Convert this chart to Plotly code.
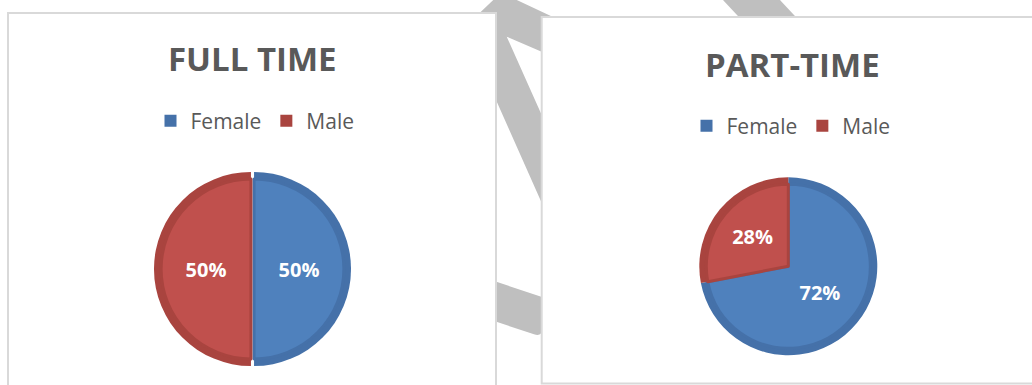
import plotly.graph_objects as go

W, H = 1032, 385

# Data
labels = ["Female", "Male"]
full_time = [50, 50]
part_time = [72, 28]
titles = ["FULL TIME", "PART-TIME"]

# Styling
light = ["#4F81BD", "#C0504D"]
dark = ["#4571A9", "#A9443F"]
grey = "#BFBFBF"
border = "#D9D9D9"
text_grey = "#595959"
FONT = "Open Sans"


def px(x, y):
    """Pixel position -> paper coordinates."""
    return x / W, 1 - y / H


def path(points, close=True):
    parts = []
    for i, (x, y) in enumerate(points):
        u, v = px(x, y)
        parts.append(("M" if i == 0 else "L") + f"{u:.5f},{v:.5f}")
    return " ".join(parts) + (" Z" if close else "")


def domain(cx, cy, r):
    return dict(x=[(cx - r) / W, (cx + r) / W], y=[1 - (cy + r) / H, 1 - (cy - r) / H])


shapes = []

# Grey connector strokes behind the two chart panels
chevron = [(467, 25), (501, -7.4), (620, 48.4), (620, 85.4), (506.7, 36.7),
           (560, 156.1), (545, 210.3), (470, 41.5)]
shapes.append(dict(type="path", xref="paper", yref="paper", path=path(chevron),
                   fillcolor=grey, line=dict(width=0), layer="below"))

u0, v0 = px(420, 256.6)
u1, v1 = px(542, 296.9)
u2, v2 = px(542, 329)
uq, vq = px(542, 337)
u3, v3 = px(534, 334.3)
u4, v4 = px(420, 296.6)
shapes.append(dict(type="path", xref="paper", yref="paper",
                   path=f"M{u0:.5f},{v0:.5f} L{u1:.5f},{v1:.5f} L{u2:.5f},{v2:.5f} "
                        f"Q{uq:.5f},{vq:.5f} {u3:.5f},{v3:.5f} L{u4:.5f},{v4:.5f} Z",
                   fillcolor=grey, line=dict(width=0), layer="below"))

band_top = [(718.3, -5), (775.3, -5), (808, 30), (751, 30)]
shapes.append(dict(type="path", xref="paper", yref="paper", path=path(band_top),
                   fillcolor=grey, line=dict(width=0), layer="below"))

# Chart panels
for (x0, y0, x1, y1) in [(8, 13, 496, 430), (541.7, 17, 1060, 383.5)]:
    a, b = px(x0, y0)
    c, d = px(x1, y1)
    shapes.append(dict(type="rect", xref="paper", yref="paper", x0=a, y0=d, x1=c, y1=b,
                       fillcolor="white", line=dict(color=border, width=2), layer="below"))

fig = go.Figure()

charts = [
    dict(values=full_time, cx=252.5, cy=269, r=97, pull=0.016, legend="legend", group="full"),
    dict(values=part_time, cx=788.3, cy=266.3, r=89, pull=0.0, legend="legend2", group="part"),
]

for ch in charts:
    outer = ch["r"] * (1 + ch["pull"])
    # darker rim
    fig.add_trace(go.Pie(
        labels=labels, values=ch["values"], sort=False, direction="clockwise",
        rotation=0, pull=[ch["pull"]] * 2,
        marker=dict(colors=dark, line=dict(width=0)),
        textinfo="none", hoverinfo="label+percent",
        domain=domain(ch["cx"], ch["cy"], outer),
        legend=ch["legend"], legendgroup=ch["group"], showlegend=True,
    ))
    # lighter face
    inner = (ch["r"] - 7) * (1 + ch["pull"])
    fig.add_trace(go.Pie(
        labels=labels, values=ch["values"], sort=False, direction="clockwise",
        rotation=0, pull=[ch["pull"] * ch["r"] / (ch["r"] - 7)] * 2,
        marker=dict(colors=light, line=dict(color=dark, width=3)),
        textinfo="percent", textposition="inside", insidetextorientation="horizontal",
        textfont=dict(family=FONT, size=20, color="white", weight="bold"),
        hoverinfo="label+percent",
        domain=domain(ch["cx"], ch["cy"], inner),
        legend=ch["legend"], legendgroup=ch["group"], showlegend=False,
    ))

annotations = []
for title, (tx, ty) in zip(titles, [(252, 58), (792, 64)]):
    u, v = px(tx, ty)
    annotations.append(dict(text=title, x=u, y=v, xref="paper", yref="paper",
                            xanchor="center", yanchor="middle", showarrow=False,
                            font=dict(family=FONT, size=33, color=text_grey, weight="bold")))

legend_style = dict(orientation="h", xanchor="center", yanchor="middle",
                    traceorder="normal", bgcolor="rgba(0,0,0,0)",
                    font=dict(family=FONT, size=21, color=text_grey))
lx1, ly1 = px(255, 121)
lx2, ly2 = px(791, 126)

fig.update_layout(
    width=W, height=H,
    margin=dict(l=0, r=0, t=0, b=0),
    paper_bgcolor="white", plot_bgcolor="white",
    shapes=shapes, annotations=annotations,
    legend=dict(x=lx1, y=ly1, **legend_style),
    legend2=dict(x=lx2, y=ly2, **legend_style),
)

fig.write_html("out.html")
